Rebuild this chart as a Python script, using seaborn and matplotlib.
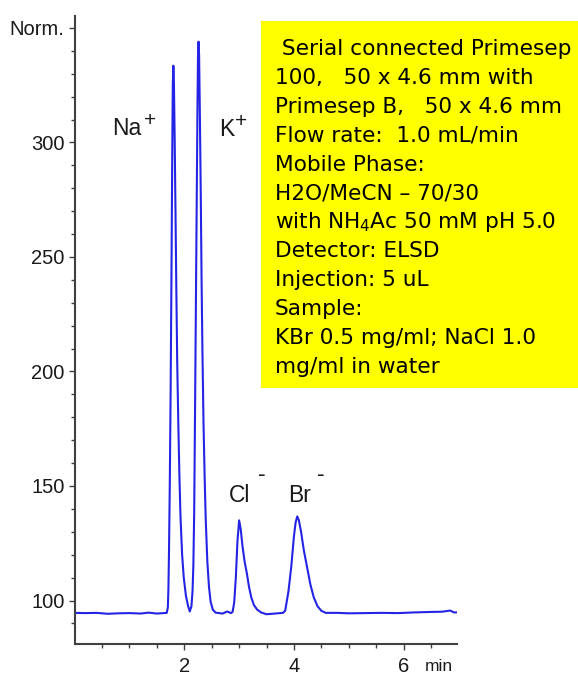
import numpy as np
import pandas as pd
import matplotlib
matplotlib.use("Agg")
import matplotlib.pyplot as plt
import seaborn as sns
from matplotlib.patches import Rectangle

# chromatogram trace (min, Norm.)
time_min = [0.00, 0.20, 0.40, 0.60, 0.80, 1.00, 1.20, 1.35, 1.50, 1.68,
            1.70, 1.71, 1.72, 1.735, 1.75, 1.765, 1.78, 1.79, 1.80, 1.81,
            1.825, 1.84, 1.855, 1.87, 1.89, 1.91, 1.93, 1.96, 1.99, 2.03,
            2.07, 2.10, 2.13, 2.15, 2.165, 2.18, 2.195, 2.21, 2.225, 2.24,
            2.25, 2.26, 2.27, 2.285, 2.30, 2.315, 2.33, 2.35, 2.37, 2.39,
            2.42, 2.45, 2.48, 2.52, 2.57, 2.70, 2.78, 2.85, 2.88, 2.91,
            2.94, 2.97, 3.00, 3.03, 3.06, 3.10, 3.14, 3.18, 3.22, 3.27,
            3.33, 3.40, 3.50, 3.65, 3.80, 3.84, 3.90, 3.95, 4.00, 4.03,
            4.06, 4.09, 4.13, 4.18, 4.24, 4.30, 4.36, 4.43, 4.50, 4.58,
            4.80, 5.00, 5.30, 5.60, 5.90, 6.20, 6.50, 6.70, 6.85, 6.92, 6.97]
signal = [94.6, 94.5, 94.6, 94.2, 94.4, 94.5, 94.3, 94.7, 94.3, 94.6,
          97, 105, 120, 150, 190, 240, 295, 325, 333.5, 327,
          300, 268, 235, 205, 178, 155, 137, 120, 110, 102,
          97.5, 95.2, 97.5, 104, 115, 138, 180, 225, 270, 315,
          338, 344, 338, 310, 278, 240, 210, 178, 155, 136,
          117, 106, 99.5, 96, 94.7, 94.3, 95.2, 94.5, 95, 99,
          110, 126, 135, 131, 124, 117, 112, 106, 101.5, 98,
          96, 94.8, 94.0, 94.3, 94.6, 95.5, 104, 114.5, 128, 134,
          136.7, 135, 130, 122, 114.5, 107, 101.5, 97.5, 95.5, 94.6,
          94.6, 94.4, 94.5, 94.6, 94.5, 94.8, 95.0, 95.1, 95.6, 94.8, 94.8]

# peak labels
peak_names = ["Na", "K", "Cl", "Br"]
peak_x = [0.68, 2.63, 2.82, 3.90]
peak_y = [303.3, 302.8, 143.1, 143.1]
charge = ["+", "+", "-", "-"]
charge_x = [1.27, 2.93, 3.35, 4.42]
charge_y = [309.4, 309.0, 155.2, 155.2]

box_lines = [" Serial connected Primesep",
             "100,   50 x 4.6 mm with",
             "Primesep B,   50 x 4.6 mm",
             "Flow rate:  1.0 mL/min",
             "Mobile Phase:",
             "H2O/MeCN \u2013 70/30",
             "with NH$_4$Ac 50 mM pH 5.0",
             "Detector: ELSD",
             "Injection: 5 uL",
             "Sample:",
             "KBr 0.5 mg/ml; NaCl 1.0",
             "mg/ml in water"]

ytick_vals = [100, 150, 200, 250, 300, 350]
ytick_labels = ["100", "150", "200", "250", "300", "Norm."]
xtick_vals = [2, 4, 6]

sns.set_theme(style="ticks")
plt.rcParams["font.family"] = ["Liberation Sans", "DejaVu Sans"]

df = pd.DataFrame({"time": time_min, "signal": signal})

fig = plt.figure(figsize=(5.78, 6.75), dpi=100)
ax = fig.add_axes([0.1292, 0.0459, 0.661, 0.9297])
sns.lineplot(data=df, x="time", y="signal", ax=ax, color="#2424e6",
             lw=1.5, estimator=None, sort=False)

ax.set_xlim(0, 6.97)
ax.set_ylim(81, 355)
ax.set_xticks(xtick_vals)
ax.set_xticklabels([str(v) for v in xtick_vals])
ax.set_xticks(np.arange(0.5, 7.0, 0.5), minor=True)
ax.set_yticks(ytick_vals)
ax.set_yticklabels(ytick_labels)
ax.set_yticks(np.arange(90, 355, 10), minor=True)
ax.set_xlabel("")
ax.set_ylabel("")
sns.despine(ax=ax)
for s in ["left", "bottom"]:
    ax.spines[s].set_color("#404040")
    ax.spines[s].set_linewidth(1.5)
ax.tick_params(which="major", length=4.3, width=1, color="#404040",
               labelsize=14.5, labelcolor="#1a1a1a")
ax.tick_params(which="minor", length=2.9, width=1, color="#404040")
ax.tick_params(axis="x", which="major", pad=5)
ax.tick_params(axis="y", which="major", pad=3)

for name, x, y in zip(peak_names, peak_x, peak_y):
    ax.text(x, y, name, fontsize=16.5, ha="left", va="baseline", color="#1a1a1a")
for c, x, y in zip(charge, charge_x, charge_y):
    ax.text(x, y, c, fontsize=16.5 if c == "-" else 15, ha="left",
            va="center", color="#1a1a1a")

fig.text(425 / 578, 1 - 671 / 675, "min", fontsize=12.5, ha="left",
         va="baseline", color="#1a1a1a")

# yellow conditions box
fig.add_artist(Rectangle((261 / 578, 1 - 388 / 675), (578 - 261) / 578,
                         (388 - 21) / 675, transform=fig.transFigure,
                         facecolor="#ffff00", edgecolor="none"))
for i, line in enumerate(box_lines):
    fig.text(275 / 578, 1 - (55 + i * 28.9) / 675, line, fontsize=15.6,
             family="DejaVu Sans", ha="left", va="baseline", color="black")

fig.savefig("out.png", dpi=100)
